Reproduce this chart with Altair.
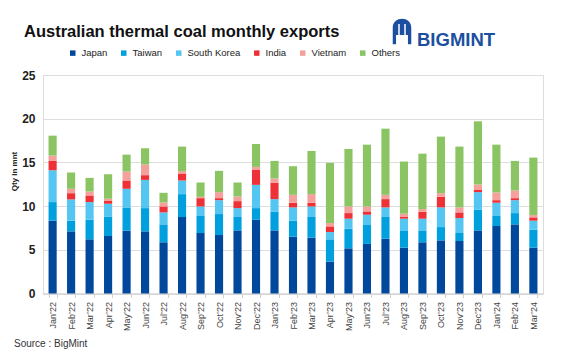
import altair as alt
import pandas as pd

months = ["Jan’22", "Feb’22", "Mar’22", "Apr’22", "May’22", "Jun’22", "Jul’22", "Aug’22",
          "Sep’22", "Oct’22", "Nov’22", "Dec’22", "Jan’23", "Feb’23", "Mar’23", "Apr’23",
          "May’23", "Jun’23", "Jul’23", "Aug’23", "Sep’23", "Oct’23", "Nov’23", "Dec’23",
          "Jan’24", "Feb’24", "Mar’24"]

series = ["Japan", "Taiwan", "South Korea", "India", "Vietnam", "Others"]
colors = ["#00489C", "#00A0DF", "#55C6F2", "#EE3136", "#F4A09C", "#8BC462"]

japan = [8.33, 7.11, 6.20, 6.58, 7.19, 7.11, 5.86, 8.75, 6.92, 6.69, 7.22, 8.44, 7.22, 6.50,
         6.39, 3.65, 5.17, 5.67, 6.27, 5.25, 5.86, 6.08, 6.01, 7.22, 7.72, 7.91, 5.25]
taiwan = [2.13, 1.22, 2.24, 2.24, 2.66, 2.66, 2.05, 2.62, 2.02, 2.40, 1.60, 1.33, 2.13, 1.83,
          2.36, 2.55, 2.24, 2.24, 2.55, 1.90, 1.36, 1.52, 0.91, 2.36, 1.22, 1.29, 2.05]
south_korea = [3.64, 2.43, 2.02, 1.45, 2.13, 3.23, 1.37, 1.56, 1.02, 1.59, 0.95, 2.66, 1.45, 1.52,
               1.21, 0.83, 1.15, 1.10, 1.03, 1.41, 1.34, 2.25, 1.71, 2.02, 1.44, 1.48, 1.03]
india = [1.07, 0.72, 0.76, 0.30, 0.95, 0.54, 0.68, 0.80, 0.95, 0.23, 0.80, 1.75, 1.86, 0.53,
         0.42, 0.65, 0.64, 0.38, 0.95, 0.19, 0.79, 1.21, 0.65, 0.30, 0.30, 0.23, 0.38]
vietnam = [0.61, 0.50, 0.45, 0.27, 1.02, 1.21, 0.46, 0.26, 0.15, 0.69, 0.53, 0.31, 0.50, 0.91,
           0.99, 0.38, 0.76, 0.57, 0.49, 0.38, 0.31, 0.42, 0.57, 0.57, 0.88, 0.88, 0.26]
others = [2.28, 1.86, 1.56, 2.81, 1.94, 1.87, 1.10, 2.82, 1.64, 2.43, 1.60, 2.62, 2.01, 3.27,
          4.94, 6.88, 6.58, 7.07, 7.57, 5.97, 6.34, 6.47, 6.96, 7.23, 5.47, 3.38, 6.58]

y_ticks = [0, 5, 10, 15, 20, 25]

FONT = "Liberation Sans Narrow, Arial Narrow, Liberation Sans, sans-serif"

values = [japan, taiwan, south_korea, india, vietnam, others]
rows = []
for si, (name, vals) in enumerate(zip(series, values)):
    for m, v in zip(months, vals):
        rows.append({"month": m, "country": name, "qty": v, "idx": si})
df = pd.DataFrame(rows)

bars = alt.Chart(df).mark_bar().encode(
    x=alt.X("month:N", sort=months, title=None,
            scale=alt.Scale(paddingInner=0.56, paddingOuter=0.3),
            axis=alt.Axis(labelAngle=270, labelFontSize=9, labelColor="#444444",
                          labelPadding=4, tickBand="extent", tickSize=4,
                          tickColor="#d0d0d0", domainColor="#d0d0d0",
                          labelFont=FONT)),
    y=alt.Y("qty:Q", stack="zero", title="Qty in mnt",
            scale=alt.Scale(domain=[0, 25], nice=False),
            axis=alt.Axis(values=y_ticks, labelFontSize=12, labelFontWeight="bold",
                          labelColor="#222222", labelPadding=8, ticks=False, domain=False,
                          gridColor="#dddddd", labelFont=FONT,
                          titleFontSize=8, titleFontWeight="bold", titleColor="#222222",
                          titleFont=FONT, titleAngle=270, titleX=-29, titleY=96,
                          titleAlign="center", titleBaseline="middle")),
    color=alt.Color("country:N", scale=alt.Scale(domain=series, range=colors),
                    legend=alt.Legend(title=None, orient="none", direction="horizontal",
                                      legendX=25, legendY=-27, symbolType="square",
                                      symbolSize=30, symbolStrokeWidth=0,
                                      labelFontSize=9.5, labelFont=FONT,
                                      labelColor="#222222", columnPadding=11,
                                      labelOffset=4, padding=0)),
    order=alt.Order("idx:Q", sort="ascending"),
)

one = pd.DataFrame({"k": [0]})

title = alt.Chart(one).mark_text(
    text="Australian thermal coal monthly exports", align="left", baseline="alphabetic",
    font=FONT, fontSize=16.5, fontWeight="bold", color="#111111"
).encode(x=alt.value(-19), y=alt.value(-38))

logo_text = alt.Chart(one).mark_text(
    text="BIGMINT", align="left", baseline="alphabetic",
    font=FONT, fontSize=18.5, fontWeight="bold", color="#1C4FA0"
).encode(x=alt.value(374), y=alt.value(-29))

dome_path = ("M -0.7 1 L -0.7 -0.25 C -0.7 -1.15 0.7 -1.15 0.7 -0.25 L 0.7 1 "
             "L 0.45 1 L 0.45 0.3 L -0.45 0.3 L -0.45 1 Z")
logo_icon = alt.Chart(one).mark_point(
    shape=dome_path, filled=True, color="#1C4FA0", size=700, opacity=1
).encode(x=alt.value(359), y=alt.value(-44))

stripes = alt.Chart(one).mark_rule(color="white", strokeWidth=1.5).encode(
    x=alt.value(356), y=alt.value(-51), y2=alt.value(-40))
stripes2 = alt.Chart(one).mark_rule(color="white", strokeWidth=1.5).encode(
    x=alt.value(362), y=alt.value(-51), y2=alt.value(-40))

source = alt.Chart(one).mark_text(
    text="Source : BigMint", align="left", baseline="alphabetic",
    font=FONT, fontSize=10, color="#333333"
).encode(x=alt.value(-29), y=alt.value(272))

chart = alt.layer(bars, title, logo_icon, stripes, stripes2, logo_text, source).properties(
    width=500, height=218.5,
    autosize=alt.AutoSizeParams(type="none"),
    padding={"left": 35, "top": 67, "right": 16, "bottom": 58},
).configure_view(stroke=None).configure(background="white")

chart.save("out.html", embed_options={"renderer": "svg", "actions": False})
